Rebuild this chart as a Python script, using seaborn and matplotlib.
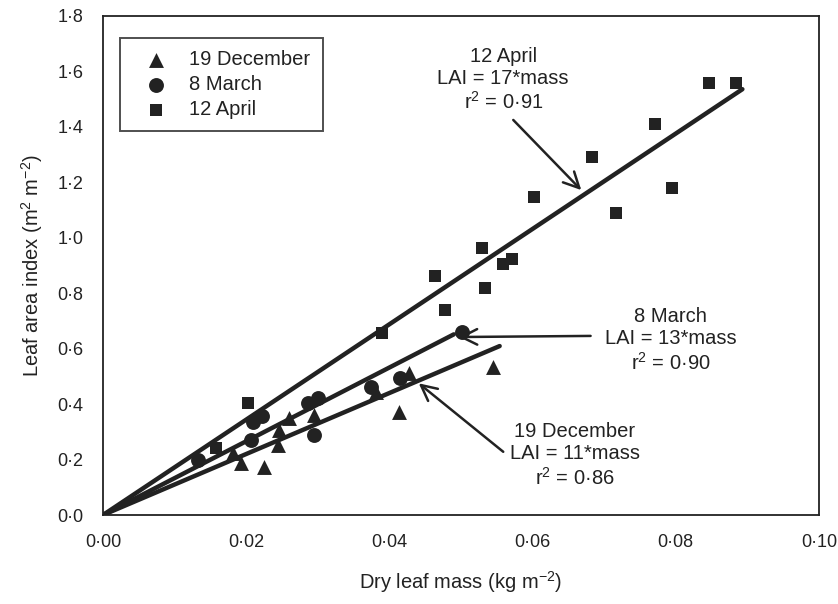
import matplotlib
matplotlib.use("Agg")
import matplotlib.pyplot as plt
import seaborn as sns
import pandas as pd
import numpy as np
from matplotlib.ticker import FuncFormatter

# ---- data ----
dec_mass = [0.0545, 0.0427, 0.0413, 0.0381, 0.0295, 0.0260, 0.0246, 0.0244, 0.0225, 0.0193, 0.0181]
dec_lai  = [0.535, 0.511, 0.373, 0.445, 0.361, 0.349, 0.307, 0.253, 0.174, 0.187, 0.224]

mar_mass = [0.0501, 0.0415, 0.0374, 0.0286, 0.0300, 0.0295, 0.0209, 0.0222, 0.0207, 0.0133]
mar_lai  = [0.661, 0.493, 0.463, 0.403, 0.421, 0.289, 0.336, 0.357, 0.271, 0.198]

apr_mass = [0.0847, 0.0884, 0.0771, 0.0683, 0.0794, 0.0602, 0.0717, 0.0530, 0.0571, 0.0559,
            0.0463, 0.0533, 0.0478, 0.0390, 0.0202, 0.0158]
apr_lai  = [1.560, 1.560, 1.409, 1.293, 1.179, 1.146, 1.091, 0.964, 0.924, 0.905,
            0.863, 0.820, 0.740, 0.655, 0.403, 0.241]

series_names = ["19 December", "8 March", "12 April"]
fit_slope = [11.0, 13.3, 17.2]
fit_xmax = [0.0554, 0.0490, 0.0893]
fit_text = ["19 December\nLAI = 11*mass\nr$^2$ = 0·86",
            "8 March\nLAI = 13*mass\nr$^2$ = 0·90",
            "12 April\nLAI = 17*mass\nr$^2$ = 0·91"]

x_ticks = [0.00, 0.02, 0.04, 0.06, 0.08, 0.10]
y_ticks = [0.0, 0.2, 0.4, 0.6, 0.8, 1.0, 1.2, 1.4, 1.6, 1.8]

# ---- plotting ----
sns.set_style("white")
plt.rcParams["font.family"] = ["Liberation Sans", "DejaVu Sans"]
plt.rcParams["mathtext.fontset"] = "custom"
plt.rcParams["mathtext.rm"] = "Liberation Sans"

ink = "#222222"
fig = plt.figure(figsize=(8.38, 6.04), dpi=100)
ax = fig.add_axes([103/838, 89/604, 716/838, 499/604])

markers = ["^", "o", "s"]
sizes = [115, 115, 85]
data = [(dec_mass, dec_lai), (mar_mass, mar_lai), (apr_mass, apr_lai)]
for (xm, yl), name, mk, sz in zip(data, series_names, markers, sizes):
    df = pd.DataFrame({"mass": xm, "lai": yl})
    sns.scatterplot(data=df, x="mass", y="lai", marker=mk, s=sz, color=ink,
                    edgecolor=ink, linewidth=0, ax=ax, label=name, zorder=3)

for sl, xmx in zip(fit_slope, fit_xmax):
    fx = np.array([0.0, xmx])
    fdf = pd.DataFrame({"mass": fx, "lai": sl * fx})
    sns.lineplot(data=fdf, x="mass", y="lai", color=ink, linewidth=3.2, ax=ax,
                 legend=False, zorder=4)

ax.set_xlim(0, 0.10)
ax.set_ylim(0, 1.8)
ax.set_xticks(x_ticks)
ax.set_yticks(y_ticks)
ax.xaxis.set_major_formatter(FuncFormatter(lambda v, p: f"{v:.2f}".replace(".", "·")))
ax.yaxis.set_major_formatter(FuncFormatter(lambda v, p: f"{v:.1f}".replace(".", "·")))
ax.tick_params(direction="out", length=6, width=1.2, colors=ink, labelsize=13, pad=8)
for sp in ax.spines.values():
    sp.set_visible(True)
    sp.set_color(ink)
    sp.set_linewidth(1.3)

ax.set_xlabel("Dry leaf mass (kg m$^{-2}$)", fontsize=14.5, color=ink, labelpad=13)
ax.set_ylabel("Leaf area index (m$^2$ m$^{-2}$)", fontsize=14.5, color=ink, labelpad=9)

# annotations
txt_pos = [(0.0659, 0.216), (0.0793, 0.631), (0.0559, 1.57)]
arrow_from = [(0.0559, 0.228), (0.0681, 0.646), (0.0573, 1.425)]
arrow_to = [(0.0441, 0.475), (0.0497, 0.642), (0.0668, 1.172)]
for t, tp, af, at in zip(fit_text, txt_pos, arrow_from, arrow_to):
    ax.text(tp[0], tp[1], t, ha="center", va="center", fontsize=14.5, color=ink,
            linespacing=1.2)
    ax.annotate("", xy=at, xytext=af,
                arrowprops=dict(arrowstyle="->", color=ink, lw=1.8,
                                mutation_scale=28, shrinkA=0, shrinkB=0))

leg = ax.legend(loc="upper left", bbox_to_anchor=(17/716, 1 - 22/499), borderaxespad=0,
                frameon=True, fancybox=False, fontsize=14.5, labelspacing=0.3,
                handletextpad=0.45, borderpad=0.6, handlelength=2.4,
                edgecolor=ink)
leg.get_frame().set_linewidth(1.4)
for txt in leg.get_texts():
    txt.set_color(ink)

fig.savefig("out.png", dpi=100)
